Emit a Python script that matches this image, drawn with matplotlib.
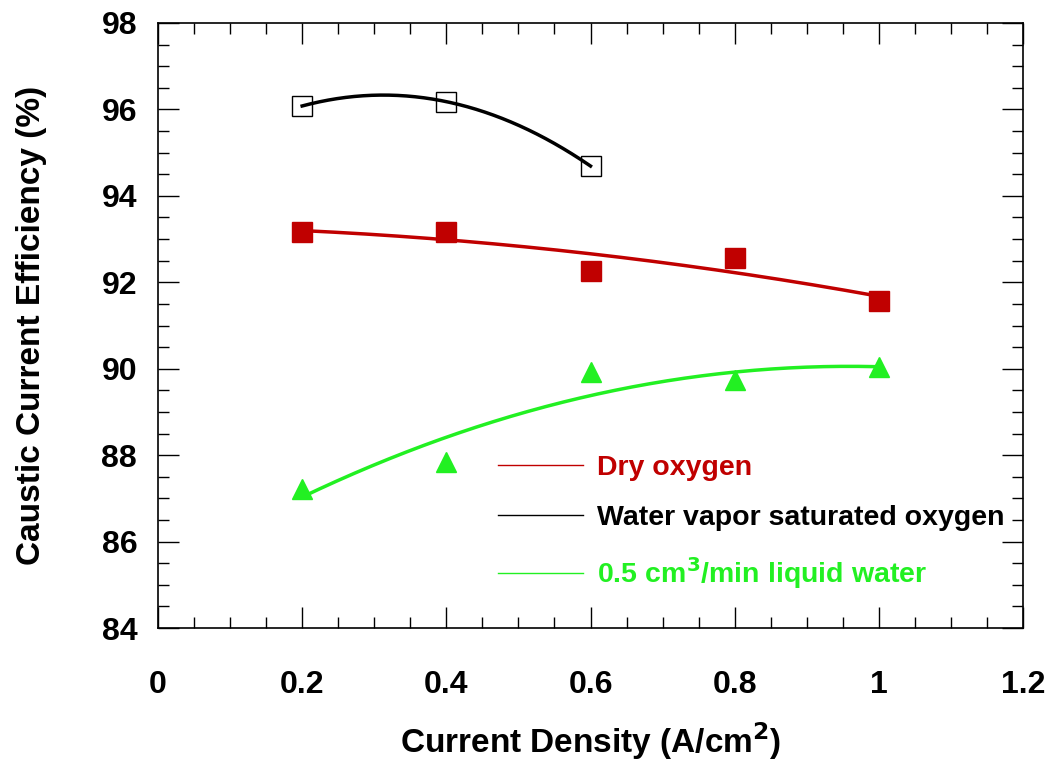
import numpy as np
import matplotlib
matplotlib.use('Agg')
import matplotlib.pyplot as plt
from matplotlib.lines import Line2D
from matplotlib.ticker import MultipleLocator

plt.rcParams['font.family'] = ['Liberation Sans', 'DejaVu Sans']
plt.rcParams['font.weight'] = 'bold'

# data
x_dry = [0.2, 0.4, 0.6, 0.8, 1.0]
y_dry = [93.17, 93.17, 92.26, 92.57, 91.57]
x_vap = [0.2, 0.4, 0.6]
y_vap = [96.08, 96.18, 94.69]
x_liq = [0.2, 0.4, 0.6, 0.8, 1.0]
y_liq = [87.22, 87.85, 89.93, 89.75, 90.04]

labels = ['Dry oxygen', 'Water vapor saturated oxygen',
          '0.5 cm$^\\mathbf{3}$/min liquid water']
red = '#C00000'
green = '#22F022'

fig = plt.figure(figsize=(10.51, 7.64), dpi=100)
ax = fig.add_axes([158/1051, 1-628/764, (1023-158)/1051, (628-23)/764])

# second order fits, like the original trend lines
for xs, ys, c in [(x_dry, y_dry, red), (x_vap, y_vap, 'black'), (x_liq, y_liq, green)]:
    p = np.polyfit(xs, ys, 2)
    xx = np.linspace(min(xs), max(xs), 200)
    ax.plot(xx, np.polyval(p, xx), color=c, lw=2.5, zorder=2)

ax.plot(x_dry, y_dry, 's', color=red, ms=15, mec=red, zorder=3)
ax.plot(x_vap, y_vap, 's', mfc='white', mec='black', mew=1.0, ms=14, zorder=1)
ax.plot(x_liq, y_liq, '^', color=green, ms=14, zorder=3)

ax.set_xlim(0, 1.2)
ax.set_ylim(84, 98)
ax.xaxis.set_major_locator(MultipleLocator(0.2))
ax.xaxis.set_minor_locator(MultipleLocator(0.05))
ax.yaxis.set_major_locator(MultipleLocator(2))
ax.yaxis.set_minor_locator(MultipleLocator(0.5))
ax.set_xticks([0, 0.2, 0.4, 0.6, 0.8, 1.0, 1.2])
ax.set_xticklabels(['0', '0.2', '0.4', '0.6', '0.8', '1', '1.2'])
ax.tick_params(which='both', direction='in', top=True, right=True, labelsize=23, width=1)
ax.tick_params(which='major', length=15)
ax.tick_params(which='minor', length=8)
ax.tick_params(axis='x', pad=30)
ax.tick_params(axis='y', pad=15)
for s in ax.spines.values():
    s.set_linewidth(1.2)

ax.set_xlabel('Current Density (A/cm$^\\mathbf{2}$)', fontsize=24, fontweight='bold', labelpad=15)
ax.set_ylabel('Caustic Current Efficiency (%)', fontsize=24, fontweight='bold', labelpad=39)

handles = [Line2D([], [], color=red, lw=1), Line2D([], [], color='black', lw=1),
           Line2D([], [], color=green, lw=1)]
leg = ax.legend(handles, labels, loc='upper left', bbox_to_anchor=(0.363, 0.329),
                frameon=False, fontsize=20.5, handlelength=3.0, handletextpad=0.5,
                labelspacing=0.85, labelcolor=[red, 'black', green])
for t in leg.get_texts():
    t.set_fontweight('bold')

fig.savefig('out.png', dpi=100)
